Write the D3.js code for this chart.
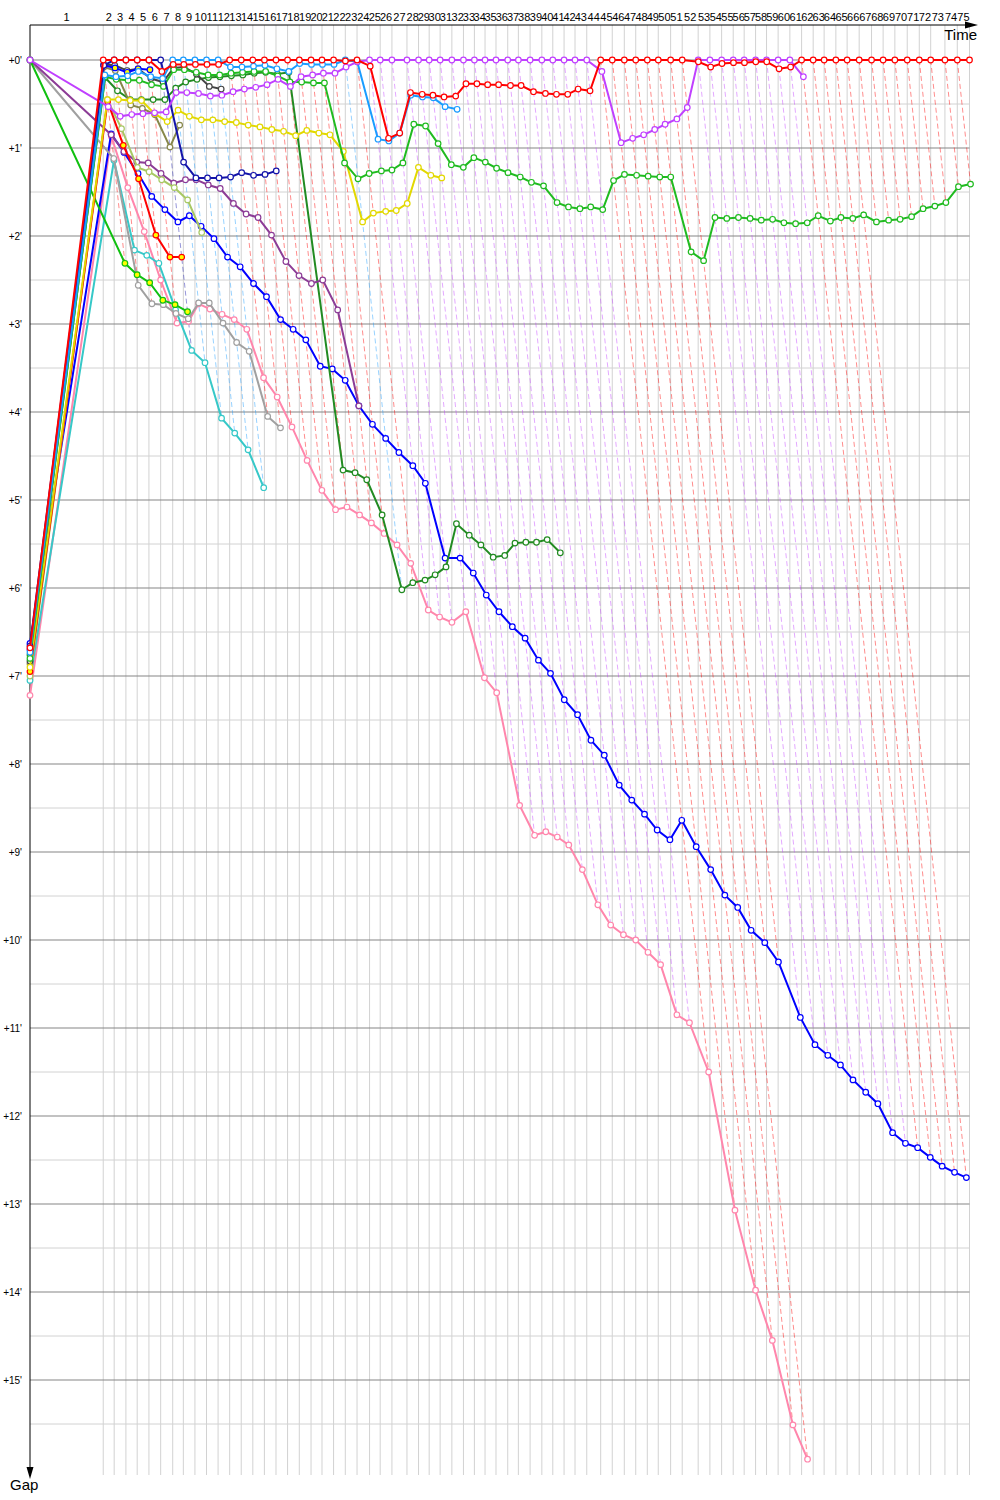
<!DOCTYPE html>
<html>
<head>
<meta charset="utf-8">
<script src="https://cdn.jsdelivr.net/npm/d3@7"></script>
<style>
  body { margin: 0; background: #fff; }
  text { font-family: "Liberation Sans", Arial, sans-serif; }
</style>
</head>
<body>
<div id="chart"></div>
<script>
// leader lap times (seconds), lap 1 .. 75
const leaderLapSeconds = [
  468, 70, 75, 72, 75, 75, 77, 68, 74, 74,
  74, 74, 74, 74, 74, 74, 74, 75, 75, 70,
  74, 75, 75, 80, 68, 75, 96, 74, 68, 70,
  75, 74, 70, 68, 70, 75, 68, 75, 75, 70,
  72, 70, 75, 89, 74, 77, 73, 74, 70, 79,
  74, 102, 75, 75, 74, 70, 73, 70, 74, 75,
  75, 74, 70, 75, 72, 77, 79, 74, 75, 79,
  77, 73, 91, 79, 78
];

// gap to the leader in minutes, index = lap (0 = start)
const gapRed = [6.68,
  0, 0, 0, 0, 0, 0.13, 0.05, 0.05, 0.05, 0.05,
  0.05, 0, 0, 0, 0, 0, 0, 0, 0, 0,
  0, 0.01, 0, 0.07, 0.89, 0.83, 0.37, 0.39, 0.40, 0.42,
  0.41, 0.27, 0.27, 0.28, 0.28, 0.29, 0.29, 0.36, 0.38, 0.39,
  0.39, 0.33, 0.35, 0, 0, 0, 0, 0, 0, 0,
  0, 0.02, 0.08, 0.04, 0.03, 0.03, 0.02, 0.02, 0.10, 0.08,
  0, 0, 0, 0, 0, 0, 0, 0, 0, 0,
  0, 0, 0, 0, 0];
const gapViolet = [0,
  0.53, 0.64, 0.62, 0.61, 0.60, 0.59, 0.37, 0.37, 0.38, 0.41,
  0.40, 0.36, 0.33, 0.31, 0.28, 0.22, 0.30, 0.19, 0.17, 0.15,
  0.15, 0.08, 0.02, 0, 0, 0, 0, 0, 0, 0,
  0, 0, 0, 0, 0, 0, 0, 0, 0, 0,
  0, 0, 0, 0.13, 0.94, 0.89, 0.85, 0.79, 0.73, 0.67,
  0.54, 0, 0, 0, 0, 0, 0, 0, 0, 0,
  0.19];
const gapSkyBlue = [6.73,
  0.17, 0.19, 0.18, 0.13, 0.19, 0.21, 0, 0, 0, 0,
  0, 0.08, 0.08, 0.07, 0.06, 0.10, 0.13, 0.04, 0.05, 0.05,
  0.05, 0, 0.02, 0.90, 0.92, 0.83, 0.40, 0.42, 0.43, 0.53,
  0.56];
const gapNavy = [6.66,
  0.06, 0, 0, 0, 0, 0, 1.16, 1.34, 1.34, 1.34,
  1.33, 1.28, 1.31, 1.30, 1.26];
const gapBlue = [6.63,
  0.84, 1.05, 1.29, 1.55, 1.70, 1.84, 1.77, 1.89, 2.03, 2.24,
  2.35, 2.54, 2.69, 2.95, 3.06, 3.18, 3.48, 3.51, 3.64, 3.93,
  4.14, 4.30, 4.46, 4.61, 4.81, 5.66, 5.66, 5.83, 6.08, 6.27,
  6.44, 6.57, 6.82, 6.97, 7.27, 7.44, 7.73, 7.90, 8.24, 8.41,
  8.57, 8.75, 8.86, 8.64, 8.94, 9.20, 9.49, 9.63, 9.89, 10.03,
  10.25, 10.88, 11.19, 11.31, 11.42, 11.59, 11.73, 11.86, 12.19, 12.31,
  12.36, 12.47, 12.57, 12.64, 12.70];
const gapBlueB = [6.70, 0.06, 0.09, 0.14, 0.10, 0.11];
const gapPink = [7.22,
  0.87, 1.45, 1.95, 2.50, 2.99, 2.97, 2.77, 2.83, 2.89, 2.95,
  3.06, 3.61, 3.83, 4.17, 4.55, 4.89, 5.11, 5.08, 5.17, 5.26,
  5.38, 5.51, 5.72, 6.25, 6.33, 6.39, 6.27, 7.02, 7.19, 8.47,
  8.81, 8.77, 8.83, 8.92, 9.20, 9.60, 9.83, 9.94, 10.00, 10.14,
  10.28, 10.85, 10.94, 11.50, 13.07, 13.98, 14.55, 15.51, 15.90];
const gapForest = [6.76,
  0.20, 0.35, 0.45, 0.45, 0.45, 0.45, 0.32, 0.25, 0.22, 0.20,
  0.19, 0.18, 0.17, 0.15, 0.14, 0.16, 0.14, 4.66, 4.69, 4.77,
  5.17, 6.02, 5.94, 5.91, 5.85, 5.76, 5.27, 5.40, 5.51, 5.65,
  5.63, 5.49, 5.48, 5.48, 5.45, 5.60];
const gapGreen = [6.80,
  0.19, 0.22, 0.23, 0.23, 0.28, 0.30, 0.11, 0.11, 0.14, 0.17,
  0.17, 0.15, 0.14, 0.13, 0.13, 0.18, 0.25, 0.25, 0.26, 0.26,
  1.17, 1.35, 1.29, 1.26, 1.25, 1.17, 0.73, 0.75, 0.95, 1.19,
  1.22, 1.11, 1.16, 1.23, 1.28, 1.33, 1.39, 1.43, 1.62, 1.67,
  1.69, 1.67, 1.70, 1.37, 1.30, 1.31, 1.32, 1.33, 1.33, 2.18,
  2.28, 1.79, 1.80, 1.79, 1.80, 1.82, 1.81, 1.85, 1.86, 1.85,
  1.77, 1.83, 1.79, 1.80, 1.76, 1.84, 1.82, 1.81, 1.78, 1.69,
  1.66, 1.62, 1.44, 1.41];
const gapGreenB = [0, 2.31, 2.44, 2.53, 2.73, 2.78, 2.86];
const gapYellow = [6.90,
  0.45, 0.45, 0.46, 0.46, 0.61, 0.70, 0.57, 0.64, 0.68, 0.68,
  0.70, 0.71, 0.74, 0.76, 0.79, 0.81, 0.86, 0.80, 0.83, 0.85,
  1.04, 1.84, 1.74, 1.72, 1.71, 1.63, 1.22, 1.31, 1.34];
const gapPlum = [0,
  0.85, 1.04, 1.16, 1.17, 1.29, 1.40, 1.36, 1.36, 1.42, 1.46,
  1.63, 1.75, 1.79, 1.99, 2.29, 2.45, 2.54, 2.50, 2.84, 3.93];
const gapGrey = [0, 1.12, 2.56, 2.77, 2.78, 2.88, 2.94, 2.76, 2.76, 2.99, 3.21, 3.31, 4.05, 4.18];
const gapCyan = [7.05, 1.14, 2.16, 2.22, 2.31, 2.84, 3.30, 3.44, 4.07, 4.24, 4.43, 4.86];
const gapLime = [7.00, 0.45, 0.78, 1.22, 1.27, 1.36, 1.45, 1.59, 1.96];
const gapRedB = [6.95, 0.47, 0.97, 1.35, 1.99, 2.24, 2.24];
const gapOlive = [6.86, 0.08, 0.12, 0.51, 0.55, 0.62, 0.99, 0.74];
const gapCharcoal = [6.83, 0.05, 0.06, 0.12, 0.10, 0.21, 0.25, 0.09, 0.08, 0.16, 0.30, 0.33];

const gapTicks = d3.range(0, 16);

// drawing order: first drawn is at the bottom
const cars = [
  { gaps: gapPink, color: "#ff86ac" },
  { gaps: gapBlue, color: "#0000ff" },
  { gaps: gapForest, color: "#228b22" },
  { gaps: gapCyan, color: "#36c8c8" },
  { gaps: gapGrey, color: "#a0a0a0" },
  { gaps: gapPlum, color: "#8c3c96" },
  { gaps: gapLime, color: "#a8c864" },
  { gaps: gapGreenB, color: "#10c010", marked: true },
  { gaps: gapRedB, color: "#ff0000", marked: true },
  { gaps: gapOlive, color: "#87874a" },
  { gaps: gapCharcoal, color: "#444444" },
  { gaps: gapYellow, color: "#e2d800" },
  { gaps: gapBlueB, color: "#0000ff", marked: true },
  { gaps: gapGreen, color: "#20bb20" },
  { gaps: gapNavy, color: "#1414aa" },
  { gaps: gapSkyBlue, color: "#1a9cff" },
  { gaps: gapViolet, color: "#c040ff" },
  { gaps: gapRed, color: "#ff0000" }
];

const w = 1000;
const h = 1500;
const padLeft = 30;
const padTop = 25;
const gridBottom = 1475;

const svg = d3.select("#chart").append("svg").attr("width", w).attr("height", h);

// leader cumulative times
const cum = [0];
leaderLapSeconds.forEach((s, i) => cum.push(cum[i] + s));
const nLaps = leaderLapSeconds.length;

const xScale = d3.scaleLinear().domain([0, cum[nLaps]]).range([padLeft, 969.5]);
const yScale = d3.scaleLinear().domain([0, 1]).range([60, 148]);

// a car's lap k is drawn at the leader's lap time plus its gap
const px = (k, g) => (k === 0 ? xScale(0) : xScale(cum[k] + g * 60));
const xEnd = xScale(cum[nLaps]);

// horizontal grid
svg.append("g")
  .selectAll("line")
  .data(d3.range(0.5, 16, 1))
  .enter()
  .append("line")
  .attr("x1", padLeft).attr("x2", xEnd)
  .attr("y1", (d) => yScale(d)).attr("y2", (d) => yScale(d))
  .attr("stroke", "#d2d2d2");

// vertical grid at each leader lap
svg.append("g")
  .selectAll("line")
  .data(d3.range(1, nLaps + 1))
  .enter()
  .append("line")
  .attr("x1", (k) => xScale(cum[k])).attr("x2", (k) => xScale(cum[k]))
  .attr("y1", padTop).attr("y2", gridBottom)
  .attr("stroke", "#d2d2d2");

svg.append("g")
  .selectAll("line")
  .data(gapTicks)
  .enter()
  .append("line")
  .attr("x1", padLeft).attr("x2", xEnd)
  .attr("y1", (d) => yScale(d)).attr("y2", (d) => yScale(d))
  .attr("stroke", "#858585");

// dashed lines: leader's lap k to the last car on lap k
const lapLinks = [];
for (let k = 1; k <= nLaps; k++) {
  let leader = null, last = null;
  for (let i = cars.length - 1; i >= 0; i--) {
    const g = cars[i].gaps[k];
    if (g == null) continue;
    if (leader === null || g < leader.g) leader = { g, color: cars[i].color };
    if (last === null || g > last.g) last = { g };
  }
  if (leader && last && last.g > 0) lapLinks.push({ k, g: last.g, color: leader.color });
}

svg.append("g")
  .selectAll("line")
  .data(lapLinks)
  .enter()
  .append("line")
  .attr("x1", (d) => xScale(cum[d.k])).attr("y1", yScale(0))
  .attr("x2", (d) => px(d.k, d.g)).attr("y2", (d) => yScale(d.g))
  .attr("stroke", (d) => d.color)
  .attr("stroke-opacity", 0.45)
  .attr("stroke-dasharray", "5,3");

// axes with arrows
svg.append("line").attr("x1", padLeft).attr("x2", 970).attr("y1", padTop).attr("y2", padTop).attr("stroke", "#000");
svg.append("line").attr("x1", padLeft).attr("x2", padLeft).attr("y1", padTop).attr("y2", 1472).attr("stroke", "#000");
svg.append("path").attr("d", "M965,21.5 L978,25 L965,28.5 Z").attr("fill", "#000");
svg.append("path").attr("d", "M26.5,1467 L30,1479 L33.5,1467 Z").attr("fill", "#000");

// lap labels between leader laps
svg.append("g")
  .selectAll("text")
  .data(d3.range(1, nLaps + 1))
  .enter()
  .append("text")
  .attr("x", (k) => (xScale(cum[k - 1]) + xScale(cum[k])) / 2)
  .attr("y", 21)
  .attr("text-anchor", "middle")
  .attr("font-size", 11)
  .text((k) => k);

svg.append("g")
  .selectAll("text")
  .data(gapTicks)
  .enter()
  .append("text")
  .attr("x", 22)
  .attr("y", (d) => yScale(d) + 3.5)
  .attr("text-anchor", "end")
  .attr("font-size", 10)
  .text((d) => "+" + d + "'");

svg.append("text").attr("x", 977).attr("y", 40).attr("text-anchor", "end").attr("font-size", 15).text("Time");
svg.append("text").attr("x", 10).attr("y", 1490).attr("font-size", 15).text("Gap");

// series
const line = d3.line().x((d) => px(d.k, d.g)).y((d) => yScale(d.g));

cars.forEach((car) => {
  const pts = car.gaps.map((g, k) => ({ k, g })).filter((d) => d.g != null);
  svg.append("path")
    .datum(pts)
    .attr("d", line)
    .attr("fill", "none")
    .attr("stroke", car.color)
    .attr("stroke-width", 2);
  svg.append("g")
    .selectAll("circle")
    .data(pts)
    .enter()
    .append("circle")
    .attr("cx", (d) => px(d.k, d.g))
    .attr("cy", (d) => yScale(d.g))
    .attr("r", 2.8)
    .attr("fill", car.marked ? "#ffff00" : "#fff")
    .attr("stroke", car.color)
    .attr("stroke-width", 1.2);
});
</script>
</body>
</html>
